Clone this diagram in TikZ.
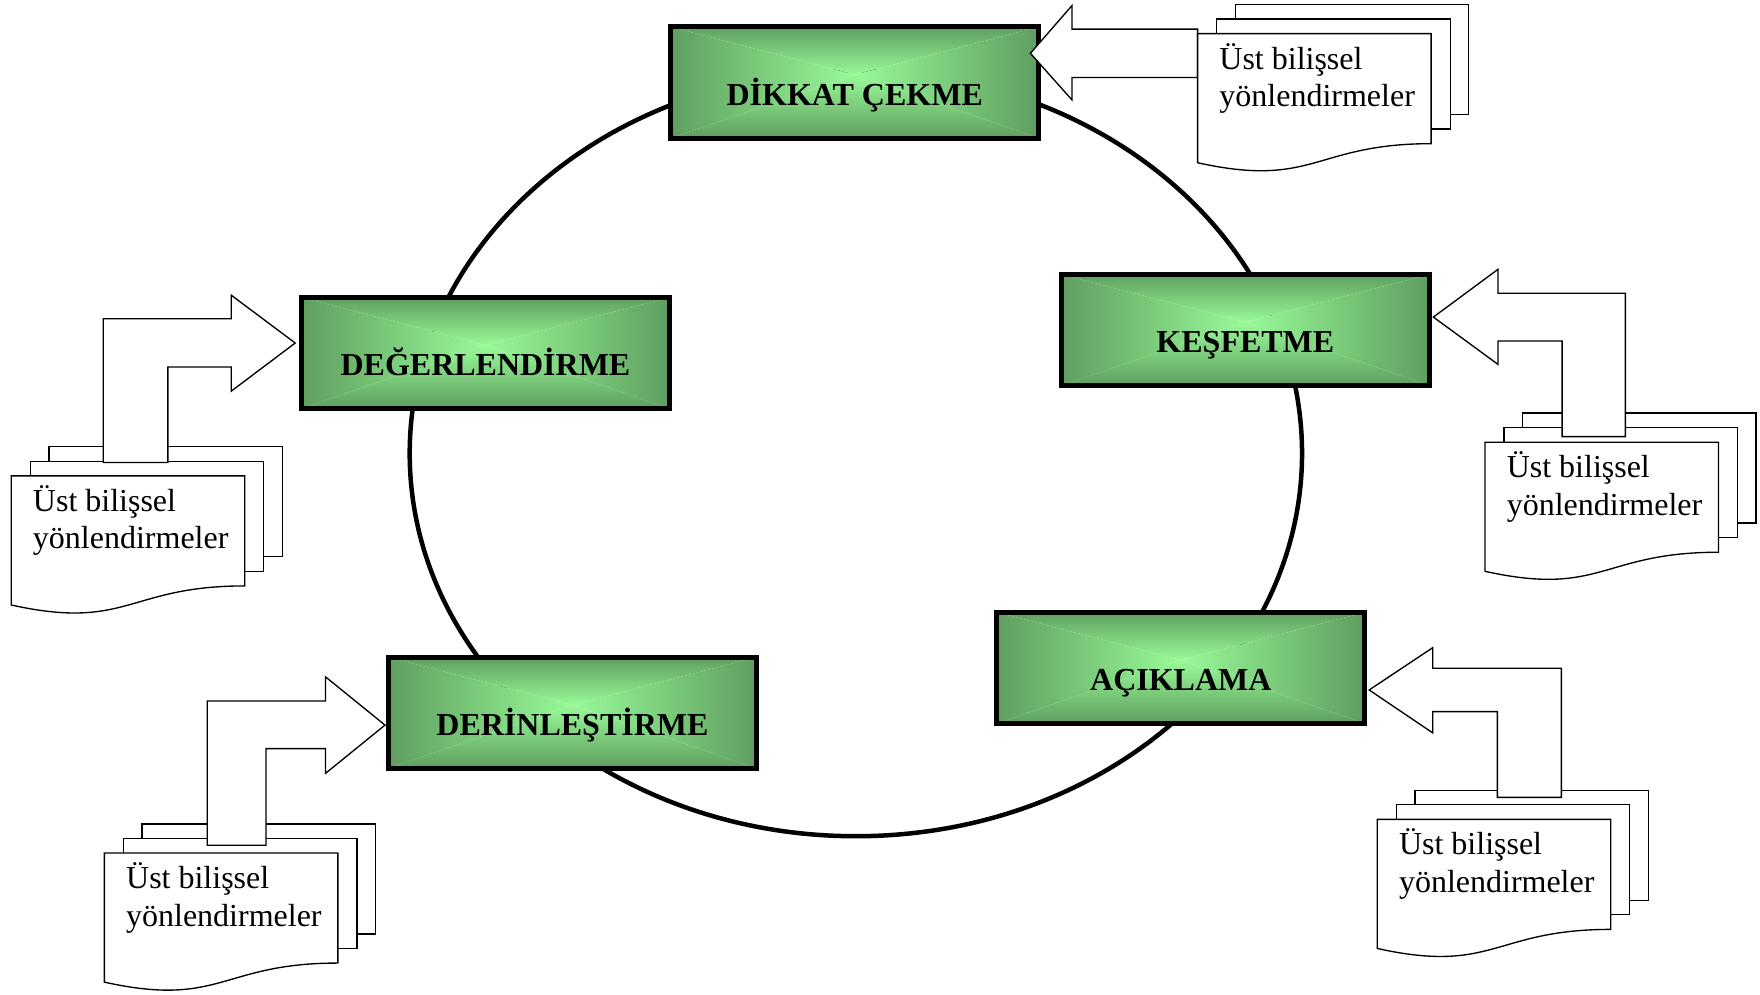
\documentclass[tikz,border=0pt]{standalone}
\usepackage{fontspec}
\setmainfont{Liberation Serif}
\definecolor{gdark}{RGB}{95,158,95}
\definecolor{glight}{RGB}{152,250,152}
\tikzset{
  stagebox/.style={draw=black, line width=2.25pt, minimum width=164pt, minimum height=49.5pt,
    inner sep=0pt, font=\fontsize{14.25pt}{17pt}\selectfont\bfseries,
    text height=20.4pt, text depth=0pt,
    path picture={
      \coordinate (gc) at ([yshift=3.5pt]path picture bounding box.center);
      \shade[top color=gdark,bottom color=glight]
        (path picture bounding box.north west) -- (path picture bounding box.north east)
        -- (gc) -- cycle;
      \shade[top color=glight,bottom color=gdark]
        (path picture bounding box.south west) -- (path picture bounding box.south east)
        -- (gc) -- cycle;
      \shade[left color=gdark,right color=glight]
        (path picture bounding box.north west) -- (path picture bounding box.south west)
        -- (gc) -- cycle;
      \shade[left color=glight,right color=gdark]
        (path picture bounding box.north east) -- (path picture bounding box.south east)
        -- (gc) -- cycle;
    }},
  page/.style={draw=black, fill=white, line width=0.6pt},
  blockarrow/.style={draw=black, fill=white, line width=0.6pt, line join=miter},
  doctext/.style={font=\fontsize{14.25pt}{16.75pt}\selectfont, align=left,
    anchor=base west, inner sep=0pt},
  cycleline/.style={draw=black, line width=2pt}
}
\newcommand\mybackpages[2]{%
  \draw[page] ({#1+33.5},{#2-26}) rectangle ({#1+241.5},{#2+72});
  \draw[page] ({#1+17},{#2-13}) rectangle ({#1+225},{#2+85});
}
\newcommand\myfrontpage[3]{%
  \draw[page] (#2,#3) -- ({#2+208},#3) -- ({#2+208},{#3+98})
    .. controls ({#2+104},{#3+98}) and ({#2+104},{#3+138}) .. (#2,{#3+115}) -- cycle;
  \node[doctext] (#1) at ({#2+19},{#3+65}) {Üst bilişsel\\yönlendirmeler};
}
\begin{document}
\begin{tikzpicture}[x=0.5pt,y=-0.5pt]
\fill[white] (0,0) rectangle (1568,886);
\useasboundingbox (0,0) rectangle (1568,886);

% cycle
\draw[cycleline] (762.5,404) ellipse [x radius=397.5, y radius=341];

% stage boxes
\node[stagebox] (dikkat) at (761.5,73.5) {DİKKAT ÇEKME};
\node[stagebox] (kesfet) at (1109.5,294) {KEŞFETME};
\node[stagebox] (deger) at (432.5,314.5) {DEĞERLENDİRME};
\node[stagebox] (aciklama) at (1052,595) {AÇIKLAMA};
\node[stagebox] (derin) at (510,635) {DERİNLEŞTİRME};

% top stack -> DİKKAT ÇEKME
\mybackpages{1067}{30}
\draw[blockarrow] (1067,26) -- (955,26) -- (955,5) -- (918,47.5) -- (955,89)
  -- (955,69) -- (1067,69) -- cycle;
\myfrontpage{docA}{1067}{30}

% right stack -> KEŞFETME
\mybackpages{1323}{394}
\draw[blockarrow] (1448,389) -- (1448,261.3) -- (1334.5,261.3) -- (1334.5,240)
  -- (1277,282.5) -- (1334.5,324.6) -- (1334.5,303.8) -- (1391.7,303.8)
  -- (1391.7,389) -- cycle;
\myfrontpage{docB}{1323}{394}

% left stack -> DEĞERLENDİRME
\mybackpages{10}{424}
\draw[blockarrow] (92,412) -- (92,284) -- (206,284) -- (206,263) -- (263,305.6)
  -- (206,348.5) -- (206,327) -- (149.6,327) -- (149.6,412) -- cycle;
\myfrontpage{docC}{10}{424}

% lower left stack -> DERİNLEŞTİRME
\mybackpages{93}{760}
\draw[blockarrow] (184.7,753) -- (184.7,624.5) -- (290,624.5) -- (290,603)
  -- (343,646) -- (290,689) -- (290,667) -- (237,667) -- (237,753) -- cycle;
\myfrontpage{docD}{93}{760}

% lower right stack -> AÇIKLAMA
\mybackpages{1227}{730}
\draw[blockarrow] (1391,710.4) -- (1391,595.4) -- (1276.5,595.4) -- (1276.5,577)
  -- (1219.8,614.7) -- (1276.5,653) -- (1276.5,634) -- (1334,634)
  -- (1334,710.4) -- cycle;
\myfrontpage{docE}{1227}{730}
\end{tikzpicture}
\end{document}
